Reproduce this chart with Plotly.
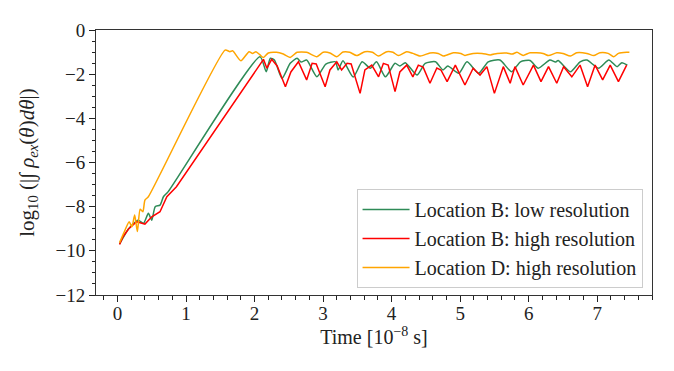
import plotly.graph_objects as go

# Location D, high resolution (orange)
t_d = [0.03, 0.11, 0.17, 0.21, 0.25, 0.29, 0.33, 0.37, 0.40, 0.45, 1.57, 1.64, 1.68, 1.80,
       1.92, 1.97, 2.02, 2.08, 2.13, 2.20, 2.32, 2.42, 2.52, 2.62, 2.76, 2.91, 3.00, 3.10,
       3.20, 3.29, 3.39, 3.49, 3.61, 3.72, 3.81, 3.93, 4.02, 4.10, 4.22, 4.31, 4.42, 4.56,
       4.68, 4.76, 4.90, 5.01, 5.07, 5.19, 5.32, 5.44, 5.54, 5.68, 5.76, 5.83, 5.92, 6.02,
       6.21, 6.29, 6.41, 6.50, 6.61, 6.70, 6.85, 6.95, 7.04, 7.16, 7.24, 7.31, 7.43, 7.47]
v_d = [-9.63, -9.06, -8.68, -8.91, -8.38, -9.13, -8.12, -8.23, -7.70, -7.55, -0.91, -0.98,
       -0.94, -1.39, -0.98, -1.06, -0.98, -1.13, -1.25, -1.04, -1.01, -1.09, -1.24, -1.01,
       -1.01, -1.21, -1.01, -1.04, -1.21, -1.00, -1.01, -1.16, -0.98, -1.01, -1.18, -0.98,
       -1.01, -1.16, -0.98, -1.06, -1.18, -1.04, -1.06, -1.18, -1.03, -1.06, -1.15, -1.06,
       -1.06, -1.13, -1.06, -1.04, -1.09, -1.01, -1.15, -1.03, -1.06, -1.16, -1.03, -1.06,
       -1.18, -1.03, -1.06, -1.16, -1.03, -1.06, -1.21, -1.06, -1.01, -1.01]

# Location B, low resolution (green)
t_bl = [0.03, 0.16, 0.30, 0.38, 0.45, 0.50, 0.55, 0.62, 0.67, 0.74, 2.08, 2.17, 2.23, 2.29,
        2.40, 2.52, 2.62, 2.68, 2.76, 2.91, 3.04, 3.18, 3.22, 3.29, 3.44, 3.57, 3.69, 3.78,
        3.91, 4.05, 4.12, 4.20, 4.37, 4.49, 4.64, 4.75, 4.82, 4.98, 5.10, 5.27, 5.41, 5.58,
        5.75, 5.88, 6.02, 6.14, 6.31, 6.39, 6.43, 6.61, 6.75, 6.85, 7.02, 7.17, 7.29, 7.36, 7.44]
v_bl = [-9.69, -9.01, -8.61, -8.75, -8.30, -8.61, -8.00, -7.93, -7.55, -7.32, -1.21, -1.89,
        -1.28, -1.36, -2.19, -1.51, -1.28, -1.45, -1.36, -2.12, -1.54, -1.44, -1.81, -1.39,
        -2.13, -1.44, -1.73, -1.44, -2.12, -1.51, -1.63, -1.48, -2.04, -1.51, -1.44, -1.81,
        -1.63, -1.96, -1.44, -1.96, -1.44, -1.36, -1.89, -1.44, -1.38, -1.73, -1.36, -1.45,
        -1.38, -1.89, -1.44, -1.36, -1.73, -1.36, -1.66, -1.48, -1.59]

# Location B, high resolution (red)
t_bh = [0.03, 0.08, 0.16, 0.28, 0.40, 0.50, 0.62, 0.72, 0.86, 2.13, 2.18, 2.25, 2.33, 2.45,
        2.53, 2.64, 2.76, 2.84, 2.90, 3.03, 3.10, 3.20, 3.27, 3.35, 3.41, 3.54, 3.61, 3.71,
        3.81, 3.88, 3.95, 4.05, 4.12, 4.22, 4.31, 4.39, 4.46, 4.56, 4.66, 4.72, 4.81, 4.93,
        5.07, 5.19, 5.29, 5.39, 5.50, 5.63, 5.73, 5.80, 5.92, 6.07, 6.18, 6.29, 6.41, 6.51,
        6.63, 6.75, 6.86, 6.97, 7.08, 7.19, 7.31, 7.43]
v_bh = [-9.71, -9.36, -9.01, -8.68, -8.79, -8.46, -8.23, -7.55, -7.10, -1.33, -1.73, -1.33,
        -1.63, -2.57, -1.90, -1.44, -2.26, -1.51, -1.54, -2.57, -1.81, -1.44, -1.81, -1.51,
        -1.54, -2.87, -1.81, -1.59, -2.12, -1.51, -1.59, -2.79, -1.90, -1.59, -2.12, -1.59,
        -1.68, -2.41, -1.72, -1.81, -2.34, -1.59, -2.49, -1.73, -2.04, -1.66, -2.87, -1.66,
        -2.41, -1.66, -2.49, -1.59, -2.34, -1.66, -2.41, -1.66, -2.12, -1.59, -2.57, -1.59,
        -2.26, -1.59, -2.34, -1.59]

FONT = "Liberation Serif"
INK = "#222222"

fig = go.Figure()
fig.add_trace(go.Scatter(x=t_bl, y=v_bl, mode="lines", name="Location B: low resolution",
                         line=dict(color="#2e8b57", width=1.5, shape="spline", smoothing=0.6)))
fig.add_trace(go.Scatter(x=t_bh, y=v_bh, mode="lines", name="Location B: high resolution",
                         line=dict(color="#ff0000", width=1.5)))
fig.add_trace(go.Scatter(x=t_d, y=v_d, mode="lines", name="Location D: high resolution",
                         line=dict(color="#ffa500", width=1.5, shape="spline", smoothing=0.6)))

axis_common = dict(showline=True, linecolor="#333333", linewidth=1, mirror=True,
                   ticks="outside", ticklen=6, tickwidth=1.2, tickcolor=INK,
                   showgrid=False, zeroline=False, automargin=False,
                   tickfont=dict(family=FONT, size=19, color=INK))

fig.update_xaxes(range=[-0.314, 7.80], dtick=1, tick0=0, ticklabelstandoff=-5,
                 minor=dict(dtick=0.2, tick0=0, ticks="outside", ticklen=3.5, tickcolor=INK),
                 title=dict(text="Time [10<sup>−8</sup> s]", font=dict(family=FONT, size=20, color=INK),
                            standoff=2),
                 **axis_common)
fig.update_yaxes(range=[-12, 0], dtick=2,
                 minor=dict(dtick=0.5, ticks="outside", ticklen=3.5, tickcolor=INK),
                 title=dict(text="log<sub>10</sub> (|∫ <i>ρ<sub>ex</sub></i>(<i>θ</i>)<i>dθ</i>|)",
                            font=dict(family=FONT, size=21, color=INK), standoff=15),
                 **axis_common)

# page body adds an 8 px offset, so margins are shifted up/left by 8 px
fig.update_layout(
    width=674, height=371,
    margin=dict(l=88, r=30, t=22, b=84),
    plot_bgcolor="white", paper_bgcolor="white",
    showlegend=True,
    legend=dict(x=0.983, y=0.026, xanchor="right", yanchor="bottom",
                bgcolor="white", bordercolor="#cccccc", borderwidth=1,
                font=dict(family=FONT, size=20, color=INK),
                tracegroupgap=0, itemwidth=47),
)

fig.write_html("out.html")
